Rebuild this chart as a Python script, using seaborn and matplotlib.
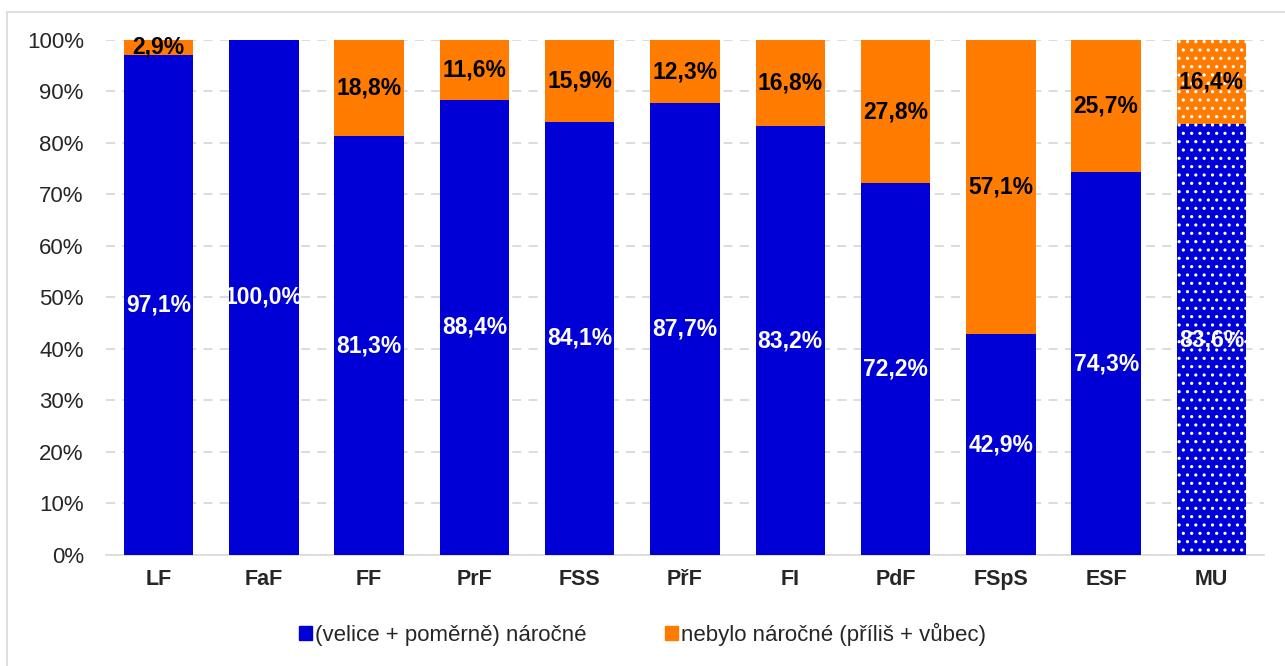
import matplotlib.pyplot as plt
import matplotlib.patches as mpatches
import numpy as np
import pandas as pd
import seaborn as sns

fakulty = ['LF', 'FaF', 'FF', 'PrF', 'FSS', 'PřF', 'FI', 'PdF', 'FSpS', 'ESF', 'MU']
narocne = [97.1, 100.0, 81.3, 88.4, 84.1, 87.7, 83.2, 72.2, 42.9, 74.3, 83.6]
nenarocne = [2.9, 0.0, 18.8, 11.6, 15.9, 12.3, 16.8, 27.8, 57.1, 25.7, 16.4]

modra = '#0000D6'
oranz = '#FF7C00'

sns.set_style('white')
plt.rcParams['font.family'] = ['Liberation Sans', 'DejaVu Sans']
plt.rcParams['hatch.color'] = 'white'
plt.rcParams['hatch.linewidth'] = 1.1

df = pd.DataFrame({'fakulta': fakulty, 'narocne': narocne, 'nenarocne': nenarocne})
df['celkem'] = df['narocne'] + df['nenarocne']

fig = plt.figure(figsize=(12.85, 6.66), dpi=100)
ax = fig.add_axes([0.0825, 0.1667, 0.9012, 0.7733])

# orange first (full height), blue drawn over it
sns.barplot(data=df, x='fakulta', y='celkem', color=oranz, width=0.66,
            saturation=1, ax=ax, zorder=2)
sns.barplot(data=df, x='fakulta', y='narocne', color=modra, width=0.66,
            saturation=1, ax=ax, zorder=3)

n = len(fakulty)
for i, p in enumerate(ax.patches):
    p.set_linewidth(0)
    if i % n == n - 1:  # MU bar - dotted
        p.set_hatch('..')
        p.set_edgecolor('white')

for i in range(n):
    ax.text(i, narocne[i] / 2, f'{narocne[i]:.1f}%'.replace('.', ','), ha='center',
            va='center', color='white', fontsize=16.5, fontweight='bold', zorder=5)
    if nenarocne[i] > 0:
        ax.text(i, narocne[i] + nenarocne[i] / 2, f'{nenarocne[i]:.1f}%'.replace('.', ','),
                ha='center', va='center', color='black', fontsize=16.5,
                fontweight='bold', zorder=5)

ax.set_ylim(0, 100)
ax.set_xlim(-0.5, n - 0.5)
ax.set_yticks(np.arange(0, 101, 10))
ax.set_yticklabels([f'{v}%' for v in range(0, 101, 10)], fontsize=16)
ax.tick_params(axis='x', labelsize=15.5, length=0, pad=10)
ax.tick_params(axis='y', length=0, pad=16)
for lbl in ax.get_xticklabels():
    lbl.set_fontweight('bold')
ax.set_xlabel('')
ax.set_ylabel('')
ax.yaxis.grid(True, color='#D9D9D9', linestyle=(0, (5, 4)), linewidth=1.3, zorder=0)
ax.set_axisbelow(True)
for s in ['top', 'right', 'left']:
    ax.spines[s].set_visible(False)
ax.spines['bottom'].set_color('#D9D9D9')
ax.spines['bottom'].set_linewidth(1.2)

handles = [mpatches.Patch(color=modra, label='(velice + poměrně) náročné'),
           mpatches.Patch(color=oranz, label='nebylo náročné (příliš + vůbec)')]
fig.legend(handles=handles, loc='center', bbox_to_anchor=(0.5, 0.047), ncol=2,
           frameon=False, fontsize=16, handlelength=0.6, handleheight=0.6,
           handletextpad=0.15, columnspacing=3.5)

fig.add_artist(mpatches.Rectangle((0.0055, -0.01), 1.0, 0.992, transform=fig.transFigure,
                                  fill=False, edgecolor='#D9D9D9', linewidth=1.2))

fig.savefig('out.png', dpi=100)
